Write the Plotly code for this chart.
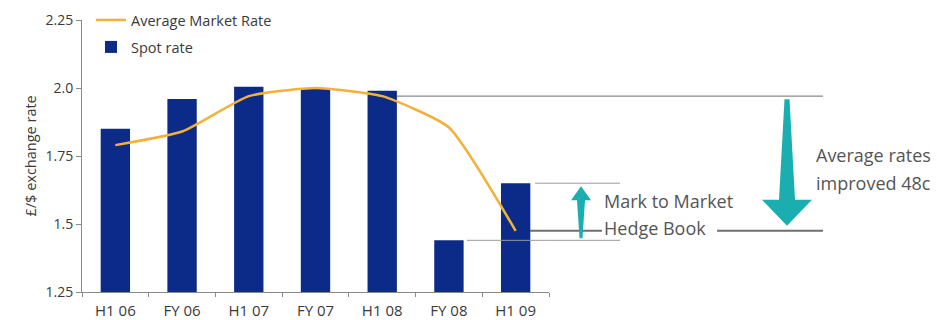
import plotly.graph_objects as go

# ---- data ----
categories = ["H1 06", "FY 06", "H1 07", "FY 07", "H1 08", "FY 08", "H1 09"]
spot_rate = [1.85, 1.96, 2.005, 2.0, 1.99, 1.44, 1.65]
avg_market_rate = [1.79, 1.84, 1.97, 2.0, 1.97, 1.855, 1.475]
y_ticks = [1.25, 1.5, 1.75, 2.0, 2.25]
y_tick_labels = ["1.25", "1.5", "1.75", "2.0", "2.25"]

W, H = 937, 320
FONT = "Open Sans"
TXT = "#3a3a3a"
NOTE = "#555555"
TEAL = "#1aaeb0"
NAVY = "#0c2a88"
GOLD = "#f4b13a"

def px(x):
    return x / W

def py(y):
    return 1 - y / H

# data units per pixel on y (range 1.0 over 272 px)
UPP = 1.0 / 272

fig = go.Figure()
fig.add_trace(go.Bar(
    x=categories, y=spot_rate, name="Spot rate",
    marker=dict(color=NAVY, line=dict(width=0)), width=0.44,
    legend="legend2",
))
fig.add_trace(go.Scatter(
    x=categories, y=avg_market_rate, name="Average Market Rate",
    mode="lines", line=dict(color=GOLD, width=2.5, shape="spline", smoothing=0.5),
    legend="legend",
))

shapes = []
def hline(x0, x1, yv, color="#8a8a8a", width=1.2):
    shapes.append(dict(type="line", xref="paper", yref="y",
                       x0=px(x0), x1=px(x1), y0=yv, y1=yv,
                       line=dict(color=color, width=width)))

# reference lines tied to data values
hline(397, 823, avg_market_rate[4])
hline(530, 602, avg_market_rate[6], color="#6e6e6e", width=2)
hline(717, 823, avg_market_rate[6], color="#6e6e6e", width=2)
hline(535, 620, spot_rate[6], color="#9a9a9a", width=1)
hline(467, 620, spot_rate[5], color="#9a9a9a", width=1)

def arrow_path(xc, y_base, y_tip, head_len_px, head_hw, shaft_hw_base, shaft_hw_head):
    d = 1 if y_tip > y_base else -1
    y_head = y_tip - d * head_len_px * UPP
    pts = [
        (xc - shaft_hw_base, y_base),
        (xc - shaft_hw_head, y_head),
        (xc - head_hw, y_head),
        (xc, y_tip),
        (xc + head_hw, y_head),
        (xc + shaft_hw_head, y_head),
        (xc + shaft_hw_base, y_base),
    ]
    path = "M " + " L ".join(f"{px(x):.5f},{y:.5f}" for x, y in pts) + " Z"
    return dict(type="path", xref="paper", yref="y", path=path,
                fillcolor=TEAL, line=dict(width=0))

# small up arrow (mark to market)
shapes.append(arrow_path(581, spot_rate[5] + 2 * UPP, spot_rate[6] - 3 * UPP,
                         14, 10, 1.5, 4))
# big down arrow (average rates improved)
shapes.append(arrow_path(787, avg_market_rate[4] - 3 * UPP, avg_market_rate[6] + 5 * UPP,
                         26, 25, 2.5, 8))

def note(text, x, y):
    return dict(text=text, xref="paper", yref="paper", x=px(x), y=py(y),
                xanchor="left", yanchor="middle", showarrow=False,
                font=dict(family=FONT, size=18, color=NOTE))

annotations = [
    dict(text="£/$ exchange rate", textangle=-90, xref="paper", yref="paper",
         x=px(18), y=py(156), showarrow=False, font=dict(family=FONT, size=14.5, color=TXT)),
    note("Mark to Market", 602, 201),
    note("Hedge Book", 602, 228),
    note("Average rates", 814, 155),
    note("improved 48c", 814, 183),
]

legend_common = dict(xanchor="left", yanchor="middle", bgcolor="rgba(0,0,0,0)",
                     font=dict(family=FONT, size=14.5, color=TXT), itemwidth=30,
                     tracegroupgap=0)

fig.update_layout(
    width=W, height=H,
    margin=dict(l=0, r=0, t=0, b=0),
    paper_bgcolor="white", plot_bgcolor="white",
    font=dict(family=FONT, color=TXT),
    showlegend=True,
    legend=dict(x=px(91), y=py(20), **legend_common),
    legend2=dict(x=px(91), y=py(47), **legend_common),
    xaxis=dict(domain=[px(82), px(549)], range=[-0.5, 6.5], type="category",
               automargin=False,
               showline=True, linecolor="#8a8a8a", linewidth=1,
               ticks="outside", tickson="boundaries", ticklen=4, tickcolor="#8a8a8a",
               ticklabelstandoff=5,
               tickfont=dict(family=FONT, size=15, color=TXT), showgrid=False),
    yaxis=dict(domain=[(H - 292) / H, (H - 20) / H], range=[1.25, 2.25],
               automargin=False,
               tickvals=y_ticks, ticktext=y_tick_labels,
               showline=True, linecolor="#8a8a8a", linewidth=1,
               ticks="outside", ticklen=5, tickcolor="#8a8a8a",
               tickfont=dict(family=FONT, size=14, color=TXT),
               showgrid=False, zeroline=False),
    shapes=shapes,
    annotations=annotations,
)

fig.write_html("out.html")
